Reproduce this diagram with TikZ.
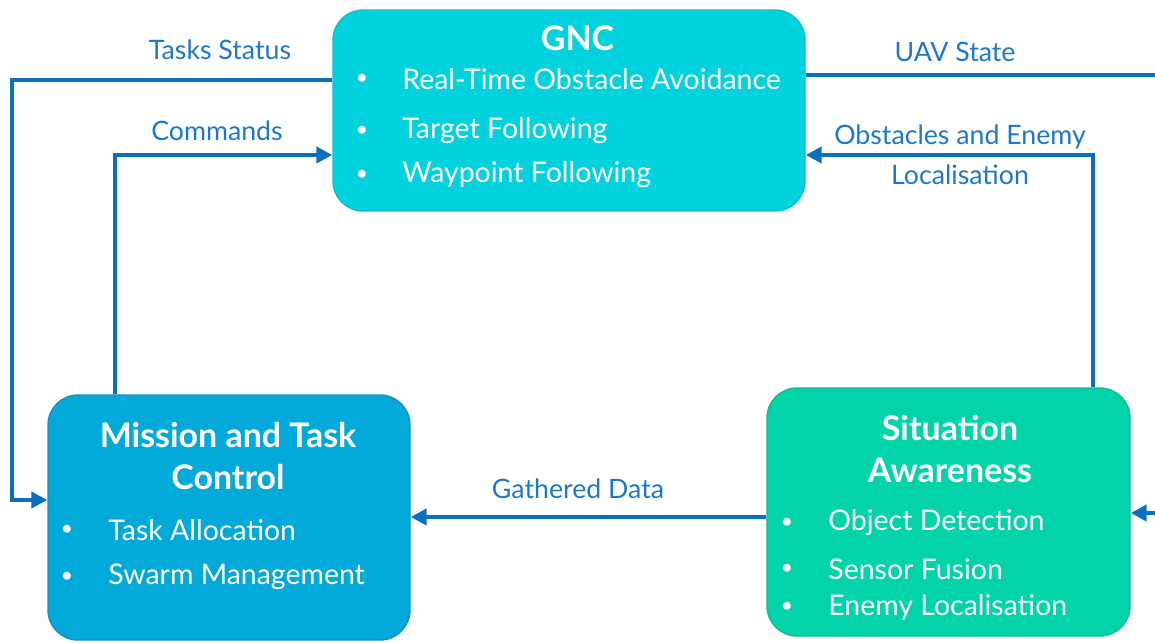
\documentclass[tikz,border=0pt]{standalone}
\usepackage{fontspec}
\setmainfont{Lato}
\usetikzlibrary{arrows.meta}
\definecolor{gncfill}{HTML}{02D2DE}
\definecolor{gncedge}{HTML}{12BCC8}
\definecolor{mtcfill}{HTML}{02A9D9}
\definecolor{mtcedge}{HTML}{1792BC}
\definecolor{safill}{HTML}{02D3A8}
\definecolor{saedge}{HTML}{12BA92}
\definecolor{flow}{HTML}{0B6FC0}
\definecolor{flowtext}{HTML}{1E78C8}
\tikzset{
  block/.style={rectangle, rounded corners=0.6cm, line width=0.8pt, inner sep=0pt},
  blocktitle/.style={text=white, font=\fontsize{19.3}{21}\selectfont\bfseries},
  item/.style={text=white, anchor=west, inner sep=0pt, font=\fontsize{16.2}{18}\selectfont},
  dot/.style={text=white, inner sep=0pt, font=\fontsize{12}{14}\selectfont},
  flowlabel/.style={text=flowtext, font=\fontsize{15.2}{17}\selectfont},
}

\begin{document}
\begin{tikzpicture}[>={Triangle[length=9pt,width=9pt]}]
	\useasboundingbox (0,0) rectangle (23.1,-12.84);

	\node[block, fill=gncfill, draw=gncedge, minimum width=9.44cm, minimum height=4.02cm] (gnc) at (11.38,-2.21) {};
	\node[block, fill=mtcfill, draw=mtcedge, minimum width=7.24cm, minimum height=4.9cm] (mtc) at (4.58,-10.35) {};
	\node[block, fill=safill, draw=saedge, minimum width=7.26cm, minimum height=4.96cm] (sa) at (18.97,-10.24) {};

	\node[blocktitle] (gnctitle) at (11.55,-0.76) {GNC};
	\node[dot] (gncdot1) at (7.24,-1.58) {\textbullet};
	\node[dot] (gncdot2) at (7.24,-2.62) {\textbullet};
	\node[dot] (gncdot3) at (7.24,-3.5) {\textbullet};
	\node[item] (gncitem1) at (8.04,-1.58) {Real-Time Obstacle Avoidance};
	\node[item] (gncitem2) at (8.04,-2.62) {Target Following};
	\node[item] (gncitem3) at (8.04,-3.5) {Waypoint Following};

	\node[blocktitle] (mtctitle1) at (4.56,-8.7) {Mission and Task};
	\node[blocktitle] (mtctitle2) at (4.56,-9.54) {Control};
	\node[dot] (mtcdot1) at (1.34,-10.6) {\textbullet};
	\node[dot] (mtcdot2) at (1.34,-11.54) {\textbullet};
	\node[item] (mtcitem1) at (2.16,-10.6) {Task Allocation};
	\node[item] (mtcitem2) at (2.16,-11.54) {Swarm Management};

	\node[blocktitle] (satitle1) at (19.0,-8.56) {Situation};
	\node[blocktitle] (satitle2) at (19.0,-9.4) {Awareness};
	\node[dot] (sadot1) at (15.74,-10.46) {\textbullet};
	\node[dot] (sadot2) at (15.74,-11.38) {\textbullet};
	\node[dot] (sadot3) at (15.74,-12.14) {\textbullet};
	\node[item] (saitem1) at (16.56,-10.46) {Object Detection};
	\node[item] (saitem2) at (16.56,-11.38) {Sensor Fusion};
	\node[item] (saitem3) at (16.56,-12.14) {Enemy Localisation};

	\node[flowlabel] (status) at (4.4,-1.0) {Tasks Status};
	\node[flowlabel] (commands) at (4.34,-2.62) {Commands};
	\node[flowlabel] (uavstate) at (19.1,-1.04) {UAV State};
	\node[flowlabel] (obstacles1) at (19.2,-2.74) {Obstacles and Enemy};
	\node[flowlabel] (obstacles2) at (19.2,-3.5) {Localisation};
	\node[flowlabel] (gathered) at (11.56,-9.78) {Gathered Data};

	\coordinate (stateout) at (23.1,-1.5);
	\coordinate (sensorin) at (23.1,-10.26);

	\draw[flow, line width=2.4pt, ->] (gnc.west |- 0,-1.6) -- (0.24,-1.6) |- (mtc.west |- 0,-10.0);
	\draw[flow, line width=2.4pt, ->] (mtc.north -| 2.3,0) |- (gnc.west |- 0,-3.1);
	\draw[flow, line width=2.4pt] (gnc.east |- stateout) -- (stateout);
	\draw[flow, line width=2.4pt, ->] (sa.north -| 21.86,0) |- (gnc.east |- 0,-3.1);
	\draw[flow, line width=2.4pt, ->] (sa.west |- 0,-10.34) -- (mtc.east |- 0,-10.34);
	\draw[flow, line width=2.4pt, ->] (sensorin) -- (sa.east |- sensorin);

\end{tikzpicture}
\end{document}
